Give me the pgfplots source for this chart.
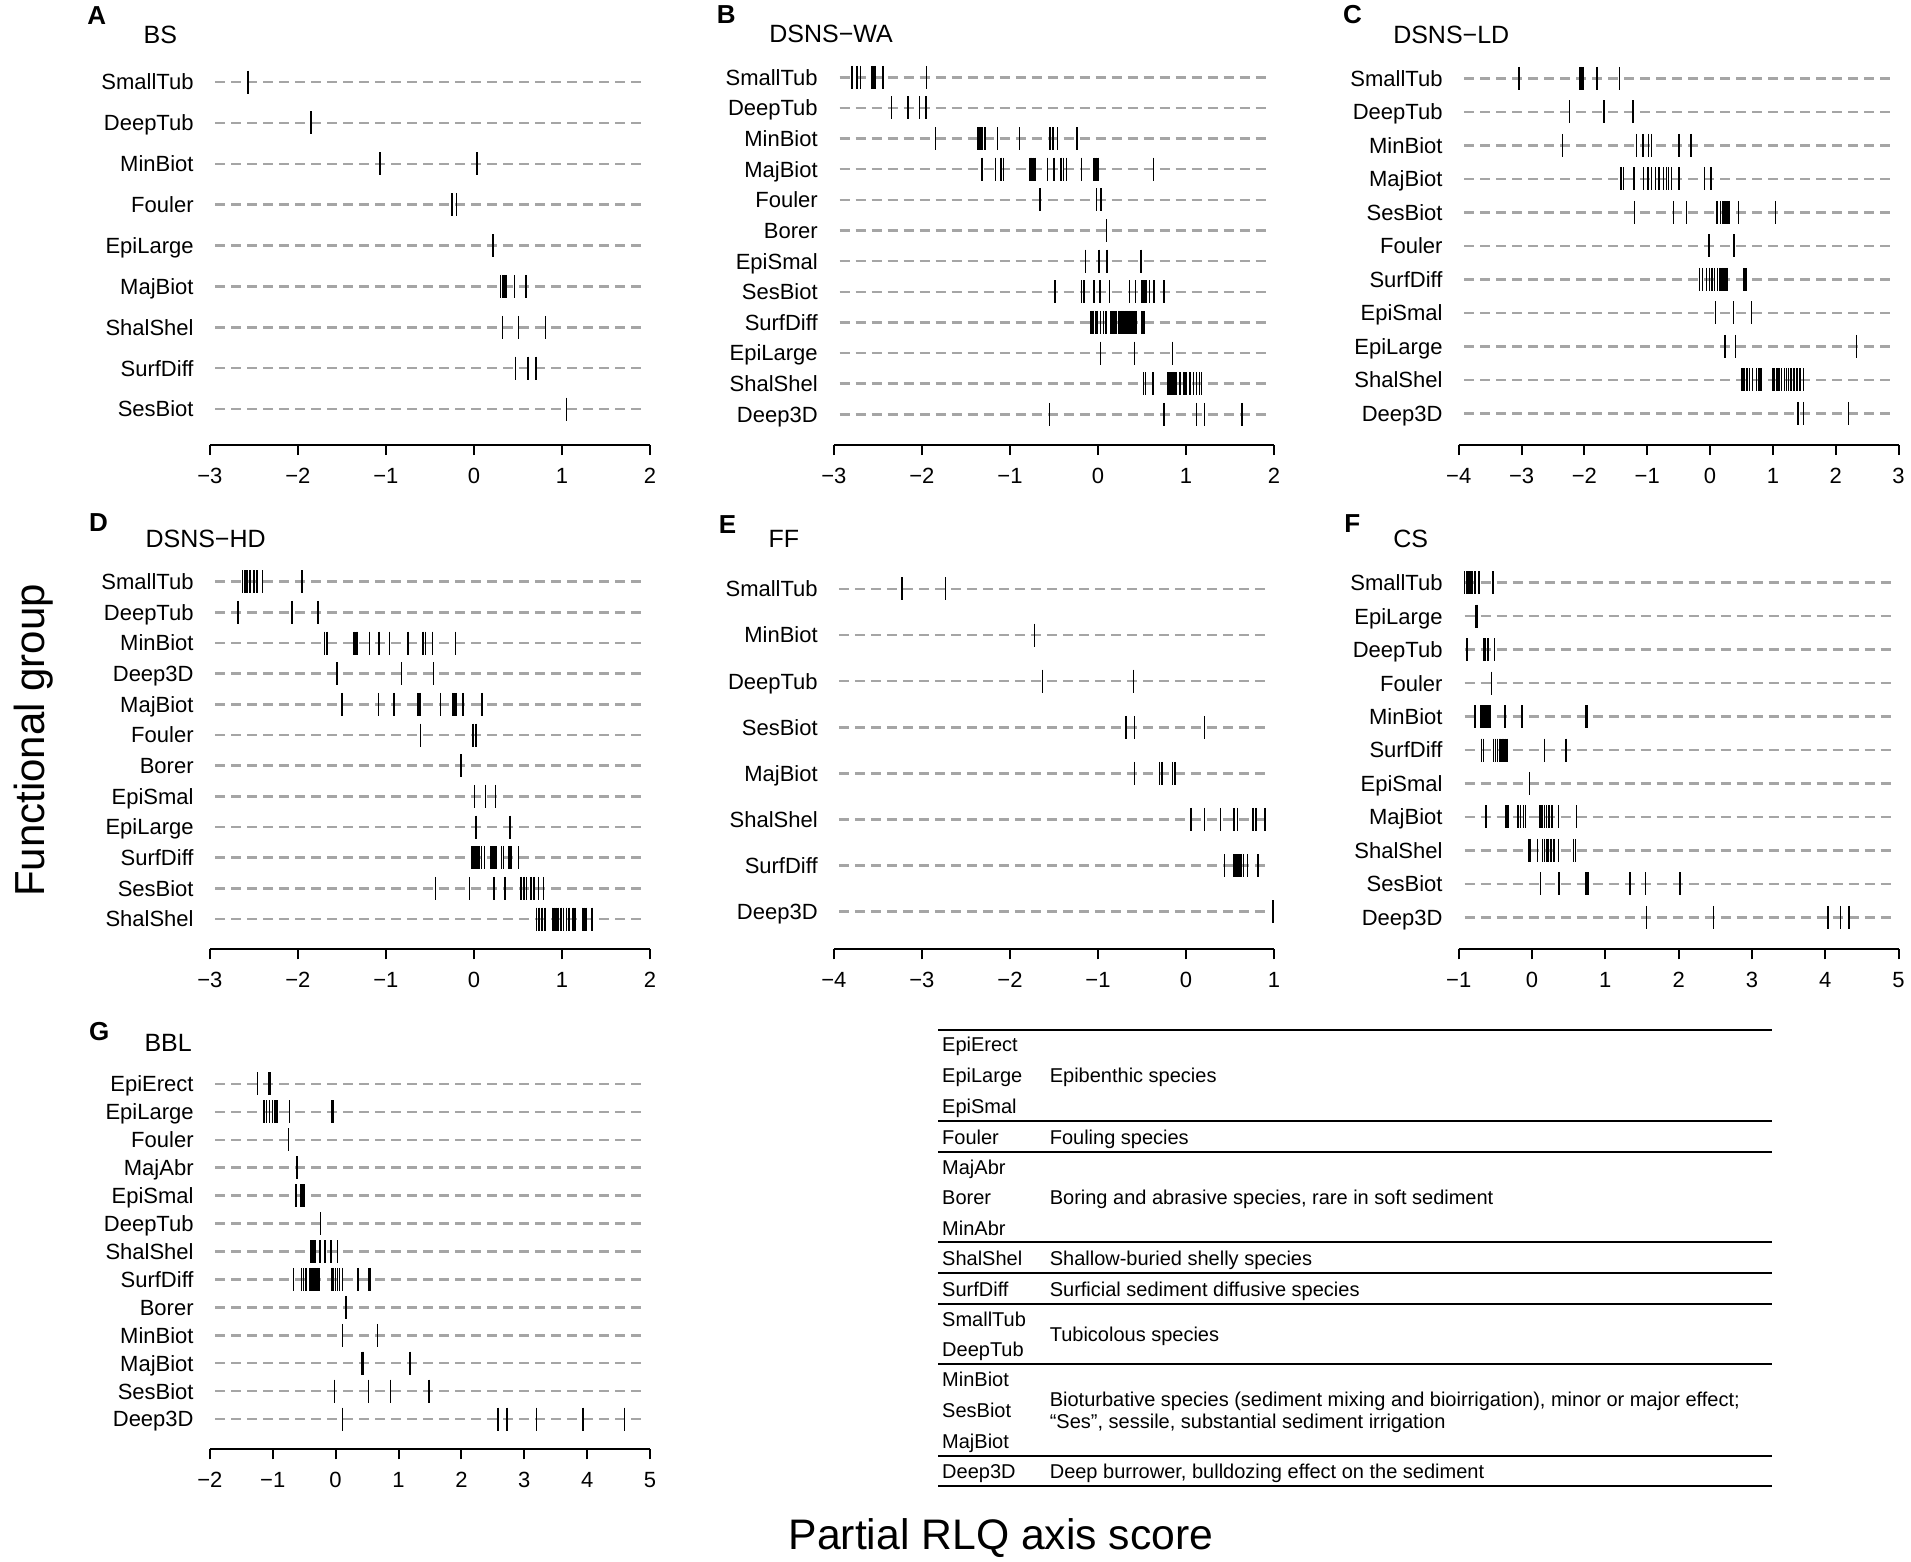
\documentclass[border=0pt]{standalone}
\usepackage{fontspec}
\setmainfont{Liberation Sans}
\usepackage{pgfplots}
\pgfplotsset{compat=1.18}
\definecolor{dashgray}{RGB}{165,165,165}

\newcommand{\lab}{\fontsize{22}{26}\selectfont}
\newcommand{\ttl}{\fontsize{25}{30}\selectfont}
\newcommand{\pl}{\bfseries\fontsize{26}{30}\selectfont}
\newcommand{\tb}{\fontsize{20}{24}\selectfont}

\pgfplotsset{
  dotpanel/.style={
    scale only axis, anchor=south west, clip=false,
    y dir=reverse, ymin=0.5,
    axis x line*=bottom, axis y line*=left,
    y axis line style={draw=none},
    x axis line style={line width=2pt,-},
    xtick style={line width=2pt,black},
    ytick style={draw=none},
    tick align=outside, major tick length=10pt,
    xticklabel style={font=\lab, anchor=base, inner sep=0pt, yshift=-28.5pt},
    yticklabel style={font=\lab, anchor=base east, inner sep=0pt, xshift=-6pt, yshift=-7.9pt},
  },
  guide/.style={dashgray, line width=2.5pt, dash pattern=on 10pt off 6pt, forget plot},
  tk/.style={only marks, mark=|, mark size=11.5pt, mark options={line width=1.5pt, black}, black},
}

\begin{document}
\begin{tikzpicture}
\useasboundingbox (0,0) rectangle (1911pt,-1561pt);

% ---------- A: BS
\begin{axis}[dotpanel, at={(209.8pt,-445pt)}, width=440.3pt, height=383.4pt,
  xmin=-3, xmax=2, ymax=9.881, xtick={-3,...,2}, xticklabels={−3,−2,−1,0,1,2},
  ytick={1,...,9}, yticklabels={SmallTub,DeepTub,MinBiot,Fouler,EpiLarge,MajBiot,ShalShel,SurfDiff,SesBiot}]
\pgfplotsinvokeforeach{1,...,9}{\addplot[guide] coordinates {(-2.936,#1) (1.957,#1)};}
\addplot[tk] coordinates {(-2.564,1)};
\addplot[tk] coordinates {(-1.850,2)};
\addplot[tk] coordinates {(-1.068,3) (0.034,3)};
\addplot[tk] coordinates {(-0.252,4) (-0.201,4)};
\addplot[tk] coordinates {(0.214,5)};
\addplot[tk] coordinates {(0.299,6) (0.321,6) (0.342,6) (0.363,6) (0.462,6) (0.585,6) (0.594,6)};
\addplot[tk] coordinates {(0.325,7) (0.504,7) (0.812,7)};
\addplot[tk] coordinates {(0.470,8) (0.611,8) (0.705,8)};
\addplot[tk] coordinates {(1.051,9)};
\end{axis}

% ---------- B: DSNS-WA
\begin{axis}[dotpanel, at={(833.9pt,-445pt)}, width=440.1pt, height=383.0pt,
  xmin=-3, xmax=2, ymax=13.002, xtick={-3,...,2}, xticklabels={−3,−2,−1,0,1,2},
  ytick={1,...,12}, yticklabels={SmallTub,DeepTub,MinBiot,MajBiot,Fouler,Borer,EpiSmal,SesBiot,SurfDiff,EpiLarge,ShalShel,Deep3D}]
\pgfplotsinvokeforeach{1,...,12}{\addplot[guide] coordinates {(-2.935,#1) (1.957,#1)};}
\addplot[tk] coordinates {(-2.796,1) (-2.739,1) (-2.696,1) (-2.565,1) (-2.543,1) (-2.530,1) (-2.443,1) (-1.948,1)};
\addplot[tk] coordinates {(-2.348,2) (-2.161,2) (-2.030,2) (-1.952,2)};
\addplot[tk] coordinates {(-1.848,3) (-1.361,3) (-1.339,3) (-1.317,3) (-1.283,3) (-1.139,3) (-0.891,3) (-0.543,3) (-0.513,3) (-0.457,3) (-0.239,3)};
\addplot[tk] coordinates {(-1.317,4) (-1.165,4) (-1.100,4) (-1.074,4) (-0.774,4) (-0.757,4) (-0.739,4) (-0.713,4) (-0.574,4) (-0.500,4) (-0.422,4) (-0.391,4) (-0.357,4) (-0.187,4) (-0.043,4) (-0.022,4) (0.000,4) (0.630,4)};
\addplot[tk] coordinates {(-0.661,5) (-0.017,5) (0.035,5)};
\addplot[tk] coordinates {(0.096,6)};
\addplot[tk] coordinates {(-0.143,7) (0.009,7) (0.100,7) (0.491,7)};
\addplot[tk] coordinates {(-0.487,8) (-0.187,8) (-0.161,8) (-0.043,8) (0.022,8) (0.130,8) (0.357,8) (0.426,8) (0.500,8) (0.522,8) (0.543,8) (0.587,8) (0.639,8) (0.748,8)};
\addplot[tk] coordinates {(-0.080,9) (-0.065,9) (-0.050,9) (-0.030,9) (-0.010,9) (0.030,9) (0.060,9) (0.091,9) (0.148,9) (0.160,9) (0.172,9) (0.185,9) (0.198,9) (0.212,9) (0.231,9) (0.245,9) (0.260,9) (0.275,9) (0.290,9) (0.305,9) (0.320,9) (0.335,9) (0.350,9) (0.365,9) (0.380,9) (0.395,9) (0.410,9) (0.425,9) (0.440,9) (0.497,9) (0.510,9) (0.526,9)};
\addplot[tk] coordinates {(0.030,10) (0.413,10) (0.848,10)};
\addplot[tk] coordinates {(0.515,11) (0.541,11) (0.628,11) (0.788,11) (0.800,11) (0.815,11) (0.830,11) (0.845,11) (0.860,11) (0.875,11) (0.894,11) (0.932,11) (0.970,11) (0.990,11) (1.008,11) (1.046,11) (1.083,11) (1.121,11) (1.152,11) (1.178,11)};
\addplot[tk] coordinates {(-0.552,12) (0.752,12) (1.117,12) (1.209,12) (1.639,12)};
\end{axis}

% ---------- C: DSNS-LD
\begin{axis}[dotpanel, at={(1458.7pt,-445pt)}, width=439.9pt, height=383.4pt,
  xmin=-4, xmax=3, ymax=11.946, xtick={-4,...,3}, xticklabels={−4,−3,−2,−1,0,1,2,3},
  ytick={1,...,11}, yticklabels={SmallTub,DeepTub,MinBiot,MajBiot,SesBiot,Fouler,SurfDiff,EpiSmal,EpiLarge,ShalShel,Deep3D}]
\pgfplotsinvokeforeach{1,...,11}{\addplot[guide] coordinates {(-3.911,#1) (2.951,#1)};}
\addplot[tk] coordinates {(-3.041,1) (-2.070,1) (-2.046,1) (-2.022,1) (-1.800,1) (-1.440,1)};
\addplot[tk] coordinates {(-2.238,2) (-1.698,2) (-1.680,2) (-1.230,2)};
\addplot[tk] coordinates {(-2.352,3) (-1.170,3) (-1.068,3) (-0.978,3) (-0.930,3) (-0.498,3) (-0.300,3)};
\addplot[tk] coordinates {(-1.428,4) (-1.410,4) (-1.374,4) (-1.212,4) (-1.062,4) (-0.990,4) (-0.930,4) (-0.870,4) (-0.810,4) (-0.738,4) (-0.690,4) (-0.660,4) (-0.618,4) (-0.498,4) (-0.090,4) (0.012,4)};
\addplot[tk] coordinates {(-1.200,5) (-0.582,5) (-0.378,5) (0.108,5) (0.162,5) (0.198,5) (0.222,5) (0.246,5) (0.270,5) (0.300,5) (0.450,5) (1.038,5)};
\addplot[tk] coordinates {(-0.018,6) (0.378,6)};
\addplot[tk] coordinates {(-0.168,7) (-0.120,7) (-0.060,7) (-0.012,7) (0.030,7) (0.072,7) (0.120,7) (0.150,7) (0.168,7) (0.186,7) (0.204,7) (0.222,7) (0.240,7) (0.258,7) (0.270,7) (0.540,7) (0.570,7)};
\addplot[tk] coordinates {(0.090,8) (0.372,8) (0.660,8)};
\addplot[tk] coordinates {(0.240,9) (0.402,9) (2.328,9)};
\addplot[tk] coordinates {(0.510,10) (0.540,10) (0.588,10) (0.630,10) (0.678,10) (0.738,10) (0.780,10) (0.810,10) (0.990,10) (1.020,10) (1.062,10) (1.098,10) (1.140,10) (1.182,10) (1.218,10) (1.248,10) (1.290,10) (1.338,10) (1.380,10) (1.428,10) (1.488,10)};
\addplot[tk] coordinates {(1.398,11) (1.488,11) (2.202,11)};
\end{axis}

% ---------- D: DSNS-HD
\begin{axis}[dotpanel, at={(209.8pt,-949.3pt)}, width=440.3pt, height=382.9pt,
  xmin=-3, xmax=2, ymax=12.988, xtick={-3,...,2}, xticklabels={−3,−2,−1,0,1,2},
  ytick={1,...,12}, yticklabels={SmallTub,DeepTub,MinBiot,Deep3D,MajBiot,Fouler,Borer,EpiSmal,EpiLarge,SurfDiff,SesBiot,ShalShel}]
\pgfplotsinvokeforeach{1,...,12}{\addplot[guide] coordinates {(-2.936,#1) (1.957,#1)};}
\addplot[tk] coordinates {(-2.628,1) (-2.607,1) (-2.594,1) (-2.577,1) (-2.543,1) (-2.496,1) (-2.466,1) (-2.402,1) (-1.953,1)};
\addplot[tk] coordinates {(-2.679,2) (-2.068,2) (-1.774,2)};
\addplot[tk] coordinates {(-1.697,3) (-1.671,3) (-1.363,3) (-1.338,3) (-1.325,3) (-1.184,3) (-1.077,3) (-0.962,3) (-0.748,3) (-0.577,3) (-0.551,3) (-0.470,3) (-0.209,3)};
\addplot[tk] coordinates {(-1.556,4) (-0.821,4) (-0.457,4)};
\addplot[tk] coordinates {(-1.496,5) (-1.085,5) (-0.906,5) (-0.641,5) (-0.624,5) (-0.611,5) (-0.380,5) (-0.244,5) (-0.226,5) (-0.205,5) (-0.124,5) (0.090,5)};
\addplot[tk] coordinates {(-0.607,6) (-0.009,6) (0.021,6)};
\addplot[tk] coordinates {(-0.150,7)};
\addplot[tk] coordinates {(0.004,8) (0.132,8) (0.244,8)};
\addplot[tk] coordinates {(0.021,9) (0.410,9)};
\addplot[tk] coordinates {(-0.021,10) (0.000,10) (0.021,10) (0.043,10) (0.064,10) (0.085,10) (0.120,10) (0.192,10) (0.205,10) (0.218,10) (0.231,10) (0.248,10) (0.312,10) (0.333,10) (0.397,10) (0.419,10) (0.504,10)};
\addplot[tk] coordinates {(-0.436,11) (-0.051,11) (0.226,11) (0.355,11) (0.534,11) (0.568,11) (0.598,11) (0.645,11) (0.684,11) (0.731,11) (0.791,11)};
\addplot[tk] coordinates {(0.709,12) (0.739,12) (0.774,12) (0.808,12) (0.889,12) (0.910,12) (0.932,12) (0.953,12) (0.987,12) (1.017,12) (1.051,12) (1.081,12) (1.124,12) (1.145,12) (1.231,12) (1.252,12) (1.274,12) (1.338,12)};
\end{axis}

% ---------- E: FF
\begin{axis}[dotpanel, at={(833.9pt,-949.3pt)}, width=440.1pt, height=383.4pt,
  xmin=-4, xmax=1, ymax=8.816, xtick={-4,...,1}, xticklabels={−4,−3,−2,−1,0,1},
  ytick={1,...,8}, yticklabels={SmallTub,MinBiot,DeepTub,SesBiot,MajBiot,ShalShel,SurfDiff,Deep3D}]
\pgfplotsinvokeforeach{1,...,8}{\addplot[guide] coordinates {(-3.943,#1) (0.948,#1)};}
\addplot[tk] coordinates {(-3.226,1) (-2.735,1)};
\addplot[tk] coordinates {(-1.722,2)};
\addplot[tk] coordinates {(-1.630,3) (-0.596,3)};
\addplot[tk] coordinates {(-0.683,4) (-0.587,4) (0.209,4)};
\addplot[tk] coordinates {(-0.583,5) (-0.300,5) (-0.270,5) (-0.152,5) (-0.126,5)};
\addplot[tk] coordinates {(0.057,6) (0.209,6) (0.391,6) (0.543,6) (0.587,6) (0.761,6) (0.796,6) (0.896,6)};
\addplot[tk] coordinates {(0.435,7) (0.548,7) (0.570,7) (0.587,7) (0.600,7) (0.613,7) (0.630,7) (0.652,7) (0.696,7) (0.817,7)};
\addplot[tk] coordinates {(0.991,8)};
\end{axis}

% ---------- F: CS
\begin{axis}[dotpanel, at={(1458.7pt,-949.3pt)}, width=439.9pt, height=383.3pt,
  xmin=-1, xmax=5, ymax=11.956, xtick={-1,...,5}, xticklabels={−1,0,1,2,3,4,5},
  ytick={1,...,11}, yticklabels={SmallTub,EpiLarge,DeepTub,Fouler,MinBiot,SurfDiff,EpiSmal,MajBiot,ShalShel,SesBiot,Deep3D}]
\pgfplotsinvokeforeach{1,...,11}{\addplot[guide] coordinates {(-0.920,#1) (4.961,#1)};}
\addplot[tk] coordinates {(-0.920,1) (-0.895,1) (-0.874,1) (-0.843,1) (-0.817,1) (-0.781,1) (-0.720,1) (-0.535,1)};
\addplot[tk] coordinates {(-0.766,2) (-0.751,2)};
\addplot[tk] coordinates {(-0.884,3) (-0.663,3) (-0.643,3) (-0.602,3) (-0.514,3)};
\addplot[tk] coordinates {(-0.550,4)};
\addplot[tk] coordinates {(-0.781,5) (-0.704,5) (-0.689,5) (-0.674,5) (-0.653,5) (-0.627,5) (-0.602,5) (-0.576,5) (-0.370,5) (-0.134,5) (0.735,5) (0.756,5)};
\addplot[tk] coordinates {(-0.689,6) (-0.663,6) (-0.524,6) (-0.499,6) (-0.473,6) (-0.447,6) (-0.432,6) (-0.411,6) (-0.391,6) (-0.370,6) (-0.344,6) (0.170,6) (0.463,6)};
\addplot[tk] coordinates {(-0.036,7)};
\addplot[tk] coordinates {(-0.627,8) (-0.355,8) (-0.329,8) (-0.190,8) (-0.154,8) (-0.113,8) (-0.087,8) (0.108,8) (0.134,8) (0.170,8) (0.195,8) (0.231,8) (0.272,8) (0.360,8) (0.607,8)};
\addplot[tk] coordinates {(-0.046,9) (-0.026,9) (0.077,9) (0.144,9) (0.170,9) (0.195,9) (0.221,9) (0.257,9) (0.298,9) (0.360,9) (0.566,9) (0.596,9)};
\addplot[tk] coordinates {(0.118,10) (0.365,10) (0.735,10) (0.766,10) (1.337,10) (1.548,10) (2.021,10)};
\addplot[tk] coordinates {(1.558,11) (2.473,11) (4.036,11) (4.206,11) (4.324,11)};
\end{axis}

% ---------- G: BBL
\begin{axis}[dotpanel, at={(209.8pt,-1449.3pt)}, width=440.3pt, height=379.3pt,
  xmin=-2, xmax=5, ymax=14.085, xtick={-2,...,5}, xticklabels={−2,−1,0,1,2,3,4,5},
  ytick={1,...,13}, yticklabels={EpiErect,EpiLarge,Fouler,MajAbr,EpiSmal,DeepTub,ShalShel,SurfDiff,Borer,MinBiot,MajBiot,SesBiot,Deep3D}]
\pgfplotsinvokeforeach{1,...,13}{\addplot[guide] coordinates {(-1.915,#1) (4.937,#1)};}
\addplot[tk] coordinates {(-1.245,1) (-1.065,1) (-1.041,1)};
\addplot[tk] coordinates {(-1.137,2) (-1.095,2) (-1.047,2) (-1.005,2) (-0.975,2) (-0.946,2) (-0.928,2) (-0.730,2) (-0.060,2) (-0.030,2)};
\addplot[tk] coordinates {(-0.748,3)};
\addplot[tk] coordinates {(-0.616,4)};
\addplot[tk] coordinates {(-0.628,5) (-0.551,5) (-0.527,5) (-0.503,5)};
\addplot[tk] coordinates {(-0.239,6)};
\addplot[tk] coordinates {(-0.389,7) (-0.371,7) (-0.347,7) (-0.329,7) (-0.251,7) (-0.168,7) (-0.072,7) (0.030,7)};
\addplot[tk] coordinates {(-0.670,8) (-0.539,8) (-0.509,8) (-0.467,8) (-0.407,8) (-0.377,8) (-0.359,8) (-0.341,8) (-0.317,8) (-0.299,8) (-0.281,8) (-0.263,8) (-0.060,8) (-0.030,8) (0.000,8) (0.030,8) (0.060,8) (0.108,8) (0.359,8) (0.527,8) (0.557,8)};
\addplot[tk] coordinates {(0.168,9)};
\addplot[tk] coordinates {(0.108,10) (0.670,10)};
\addplot[tk] coordinates {(0.419,11) (0.437,11) (1.179,11)};
\addplot[tk] coordinates {(-0.018,12) (0.521,12) (0.874,12) (1.484,12)};
\addplot[tk] coordinates {(0.108,13) (2.585,13) (2.723,13) (3.190,13) (3.932,13) (4.596,13)};
\end{axis}

% ---------- panel letters and titles
\node[anchor=base west, font=\pl] at (83.8pt,-24pt) {A};
\node[anchor=base west, font=\pl] at (713.4pt,-23.3pt) {B};
\node[anchor=base west, font=\pl] at (1339.6pt,-23.3pt) {C};
\node[anchor=base west, font=\pl] at (85.6pt,-531.7pt) {D};
\node[anchor=base west, font=\pl] at (715.3pt,-533.3pt) {E};
\node[anchor=base west, font=\pl] at (1340.7pt,-532.3pt) {F};
\node[anchor=base west, font=\pl] at (85.6pt,-1040pt) {G};

\node[anchor=base west, font=\ttl] at (140.2pt,-43.3pt) {BS};
\node[anchor=base west, font=\ttl] at (765.8pt,-42.7pt) {DSNS−WA};
\node[anchor=base west, font=\ttl] at (1389.7pt,-43.3pt) {DSNS−LD};
\node[anchor=base west, font=\ttl] at (142pt,-547.3pt) {DSNS−HD};
\node[anchor=base west, font=\ttl] at (765pt,-547.3pt) {FF};
\node[anchor=base west, font=\ttl] at (1389.7pt,-547.3pt) {CS};
\node[anchor=base west, font=\ttl] at (141pt,-1051.7pt) {BBL};

% ---------- shared axis titles
\node[rotate=90, anchor=base, font=\fontsize{42}{49}\selectfont] at (44pt,-740.5pt) {Functional group};
\node[anchor=base, font=\fontsize{42.7}{50}\selectfont] at (1001pt,-1549pt) {Partial RLQ axis score};

% ---------- key table
\foreach \yy in {1030,1121,1151.7,1242.3,1273.3,1304,1364,1455.7,1486}
  \draw[line width=2pt] (938pt,-\yy pt) -- (1772pt,-\yy pt);
\begin{scope}[every node/.style={anchor=base west, inner sep=0pt, font=\tb}]
\node at (942pt,-1051.7pt) {EpiErect};
\node at (942pt,-1082.7pt) {EpiLarge};
\node at (942pt,-1113.3pt) {EpiSmal};
\node at (1049.6pt,-1082.7pt) {Epibenthic species};
\node at (942pt,-1144pt) {Fouler};
\node at (1049.6pt,-1144pt) {Fouling species};
\node at (942pt,-1174.3pt) {MajAbr};
\node at (942pt,-1204.3pt) {Borer};
\node at (942pt,-1235pt) {MinAbr};
\node at (1049.6pt,-1204.3pt) {Boring and abrasive species, rare in soft sediment};
\node at (942pt,-1265.7pt) {ShalShel};
\node at (1049.6pt,-1265.7pt) {Shallow-buried shelly species};
\node at (942pt,-1296pt) {SurfDiff};
\node at (1049.6pt,-1296pt) {Surficial sediment diffusive species};
\node at (942pt,-1326pt) {SmallTub};
\node at (942pt,-1356pt) {DeepTub};
\node at (1049.6pt,-1341pt) {Tubicolous species};
\node at (942pt,-1386.7pt) {MinBiot};
\node at (942pt,-1417.7pt) {SesBiot};
\node at (942pt,-1448.3pt) {MajBiot};
\node at (1049.6pt,-1406.7pt) {Bioturbative species (sediment mixing and bioirrigation), minor or major effect;};
\node at (1049.6pt,-1428.3pt) {“Ses”, sessile, substantial sediment irrigation};
\node at (942pt,-1478.3pt) {Deep3D};
\node at (1049.6pt,-1478.3pt) {Deep burrower, bulldozing effect on the sediment};
\end{scope}
\end{tikzpicture}
\end{document}
